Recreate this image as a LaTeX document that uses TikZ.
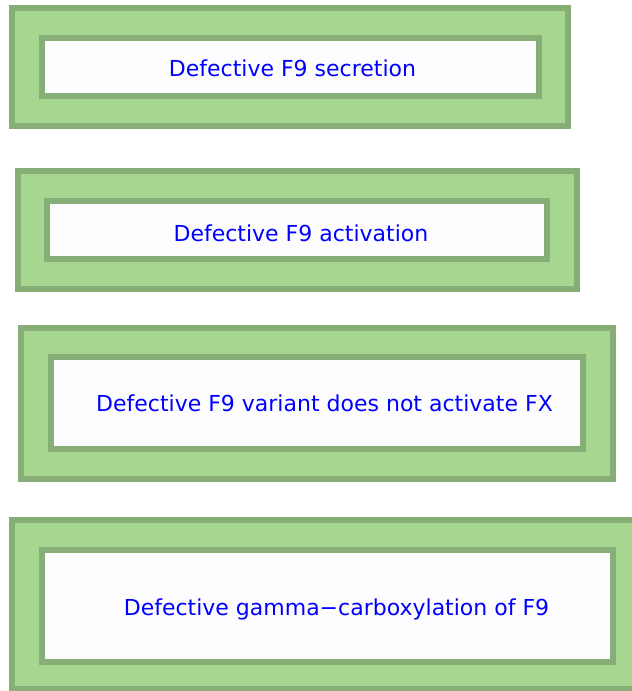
\documentclass[tikz,border=0pt]{standalone}
\usepackage{fontspec}
\setmainfont{DejaVu Sans}
\definecolor{gfill}{HTML}{A6D690}
\definecolor{gline}{HTML}{88AE78}
\definecolor{wfill}{HTML}{FDFDFF}
\definecolor{tblue}{HTML}{0000FF}
\tikzset{
  outerbox/.style={fill=gfill, draw=gline, line width=6pt},
  innerbox/.style={fill=wfill, draw=gline, line width=6pt},
  label/.style={text=tblue, font=\fontsize{22}{26}\selectfont, anchor=base, inner sep=0pt}
}
\begin{document}
\begin{tikzpicture}[x=1pt,y=-1pt]
\useasboundingbox (0,0) rectangle (632,691);
% box 1
\draw[outerbox] (12,8) rectangle (568,126);
\draw[innerbox] (42,38) rectangle (539,96);
\node[label] (t1) at (292.5,76) {Defective F9 secretion};
% box 2
\draw[outerbox] (18,171) rectangle (577,289);
\draw[innerbox] (47,201) rectangle (547,259);
\node[label] (t2) at (301,241) {Defective F9 activation};
% box 3
\draw[outerbox] (21,328) rectangle (613,479);
\draw[innerbox] (51,357) rectangle (583,449);
\node[label] (t3) at (324.5,411) {Defective F9 variant does not activate FX};
% box 4
\draw[outerbox] (12,520) rectangle (645,688.5);
\draw[innerbox] (42,550) rectangle (613,662);
\node[label] (t4) at (336.5,615) {Defective gamma−carboxylation of F9};
\end{tikzpicture}
\end{document}
